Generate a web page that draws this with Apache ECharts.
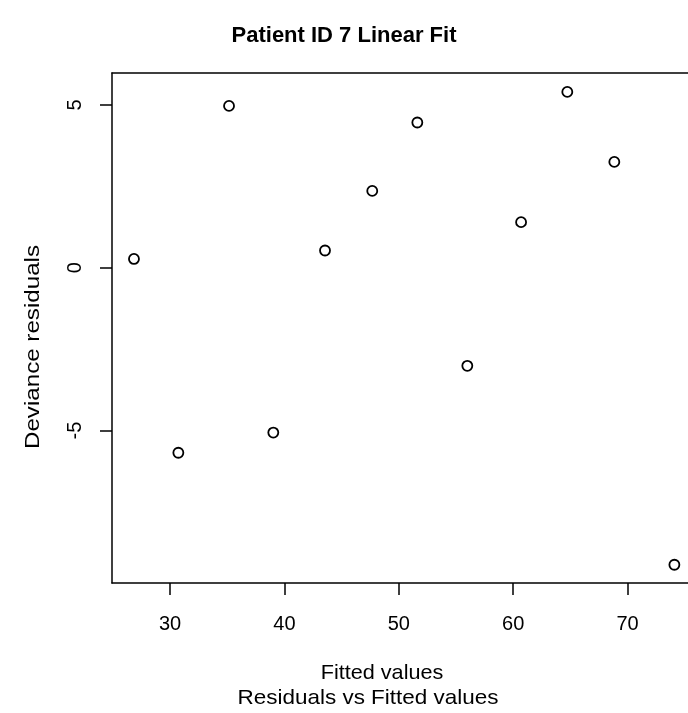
<!DOCTYPE html>
<html>
<head>
<meta charset="utf-8">
<script src="https://cdn.jsdelivr.net/npm/echarts@6/dist/echarts.min.js"></script>
<style>
html,body{margin:0;padding:0;background:#fff;}
#chart{width:688px;height:713px;}
</style>
</head>
<body>
<div id="chart"></div>
<script>
var fittedValues = [26.85, 30.73, 35.16, 39.03, 43.55, 47.68, 51.62, 55.99, 60.69, 64.73, 68.84, 74.09];
var devianceResiduals = [0.27, -5.68, 4.97, -5.06, 0.53, 2.36, 4.46, -3.01, 1.40, 5.40, 3.25, -9.12];
var xTicks = [30, 40, 50, 60, 70];
var yTicks = [-5, 0, 5];
var titleText = 'Patient ID 7 Linear Fit';
var xLabel = 'Fitted values';
var subLabel = 'Residuals vs Fitted values';
var yLabel = 'Deviance residuals';

var points = fittedValues.map(function (x, i) { return [x, devianceResiduals[i]]; });
var FONT = '"Liberation Sans", Arial, Helvetica, sans-serif';

var chart = echarts.init(document.getElementById('chart'), null, {renderer: 'canvas'});
chart.setOption({
  backgroundColor: '#ffffff',
  animation: false,
  title: {
    text: titleText,
    left: 'center',
    top: 20,
    textStyle: {fontFamily: FONT, fontSize: 22, fontWeight: 'bold', color: '#000'}
  },
  grid: {left: 112, right: 0, top: 73, bottom: 130, containLabel: false},
  xAxis: [{
    type: 'value',
    position: 'bottom',
    min: 24.93,
    max: 75.28,
    splitLine: {show: false},
    axisLine: {show: true, onZero: false, lineStyle: {color: '#000', width: 1.5}},
    axisTick: {show: true, customValues: xTicks, length: 12, lineStyle: {color: '#000', width: 1.5}},
    axisLabel: {show: true, customValues: xTicks, margin: 31, fontFamily: FONT, fontSize: 20, color: '#000'}
  }, {
    type: 'value',
    position: 'top',
    min: 24.93,
    max: 75.28,
    splitLine: {show: false},
    axisLine: {show: true, onZero: false, lineStyle: {color: '#000', width: 1.5}},
    axisTick: {show: false},
    axisLabel: {show: false}
  }],
  yAxis: {
    type: 'value',
    min: -9.68,
    max: 5.98,
    splitLine: {show: false},
    axisLine: {show: true, onZero: false, lineStyle: {color: '#000', width: 1.5}},
    axisTick: {show: true, customValues: yTicks, length: 12, lineStyle: {color: '#000', width: 1.5}},
    axisLabel: {show: true, customValues: yTicks, rotate: 90, margin: 27, fontFamily: FONT, fontSize: 20, color: '#000'}
  },
  graphic: [
    {type: 'text', x: 382, y: 673, scaleX: 1.03, style: {text: xLabel, font: '21px ' + FONT, fill: '#000', textAlign: 'center', textVerticalAlign: 'middle'}},
    {type: 'text', x: 368, y: 698, scaleX: 1.07, style: {text: subLabel, font: '21px ' + FONT, fill: '#000', textAlign: 'center', textVerticalAlign: 'middle'}},
    {type: 'text', x: 33, y: 347, rotation: Math.PI / 2, scaleX: 1.15, style: {text: yLabel, font: '21px ' + FONT, fill: '#000', textAlign: 'center', textVerticalAlign: 'middle'}}
  ],
  series: [{
    type: 'scatter',
    xAxisIndex: 0,
    data: points,
    symbol: 'circle',
    symbolSize: 10,
    itemStyle: {color: '#fff', borderColor: '#000', borderWidth: 1.8, opacity: 1},
    emphasis: {disabled: true}
  }]
});
</script>
</body>
</html>
